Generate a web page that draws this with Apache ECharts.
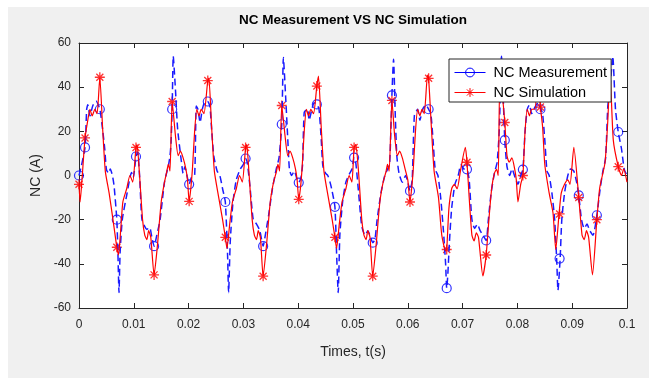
<!DOCTYPE html>
<html><head><meta charset="utf-8">
<script src="https://cdn.jsdelivr.net/npm/echarts@6/dist/echarts.min.js"></script>
<style>html,body{margin:0;padding:0;background:#fff}#c{width:649px;height:378px}</style>
</head><body><div id="c"></div>
<script>
// ---- axis ticks ----
const xTicks = [0, 0.01, 0.02, 0.03, 0.04, 0.05, 0.06, 0.07, 0.08, 0.09, 0.1];
const yTicks = [-60, -40, -20, 0, 20, 40, 60];

// ---- NC Simulation (red) ----
const simT = [
  0,0.0002,0.0006,0.0011,0.0016,0.0020,0.0024,0.0029,0.0033,0.0038,0.0043,0.0048,0.0055,0.0062,0.0069,0.0072,0.0076,0.0080,0.0087,0.0093,0.0098,0.0104,0.0106,0.0110,0.0116,0.0120,0.0124,0.0127,0.0131,0.0137,0.0143,0.0150,0.0156,0.0160,0.0163,0.0166,0.0170,0.0176,0.0181,0.0185,0.0190,0.0195,
  0.0198,0.0201,0.0204,0.0207,0.0211,0.0215,0.0219,0.0223,0.0228,0.0235,0.0237,0.0242,0.0247,0.0255,0.0262,0.0267,0.0270,0.0275,0.0280,0.0287,0.0293,0.0298,0.0304,0.0306,0.0310,0.0316,0.0320,0.0324,0.0327,0.0331,0.0336,0.0342,0.0349,0.0355,0.0360,0.0363,0.0366,0.0370,0.0376,0.0381,0.0385,0.0390,0.0395,
  0.0398,0.0401,0.0404,0.0407,0.0411,0.0415,0.0419,0.0423,0.0428,0.0434,0.0437,0.0442,0.0447,0.0455,0.0462,0.0467,0.0470,0.0475,0.0480,0.0487,0.0493,0.0498,0.0502,0.0505,0.0510,0.0516,0.0520,0.0524,0.0527,0.0531,0.0536,0.0542,0.0549,0.0555,0.0560,0.0563,0.0566,0.0571,0.0576,0.0581,0.0585,0.0590,0.0595,
  0.0600,0.0604,0.0607,0.0610,0.0614,0.0618,0.0622,0.0626,0.0630,0.0636,0.0638,0.0643,0.0648,0.0656,0.0662,0.0669,0.0671,0.0675,0.0680,0.0685,0.0690,0.0696,0.0705,0.0708,0.0712,0.0717,0.0721,0.0725,0.0729,0.0737,0.0743,0.0748,0.0753,0.0758,0.0762,0.0765,0.0768,0.0773,0.0777,0.0781,0.0785,0.0790,0.0795,
  0.0798,0.0801,0.0806,0.0810,0.0814,0.0818,0.0822,0.0826,0.0832,0.0837,0.0842,0.0846,0.0850,0.0858,0.0865,0.0870,0.0876,0.0880,0.0886,0.0892,0.0896,0.0903,0.0912,0.0918,0.0922,0.0926,0.0930,0.0937,0.0945,0.0950,0.0955,0.0960,0.0965,0.0969,0.0975,0.0984,0.0990,0.0994,0.1000
];
const simV = [
  -4,-12,0,17,25,30,27,30,28,44.5,22,2,-8,-20,-32.5,-36,-25,-12,-6,0,-3,12.7,14,2,-20,-27,-29,-25,-28,-45,-32,-12,-3,1.5,5,2,33.5,18,9,11,8,3,
  -2,-11.7,-6,3,20,30,27,30,28,43,44,22,2,-10,-20,-28,-33,-22,-12,-6,0,-3,12.7,14,2,-20,-27,-29,-25,-28,-45.6,-32,-12,-3,1.5,5,2,31.7,18,9,11,8,3,
  -2,-10.8,-6,3,20,30,27,30,28,40.5,45,22,2,-10,-20,-28,-33,-22,-12,-6,0,-3,12.7,14,2,-20,-27,-29,-25,-28,-45.6,-32,-12,-3,1.5,5,2,34,18,9,11,8,3,
  -2,-12,-6,3,20,30,27,30,28,45.5,44,22,2,-10,-27,-34,-33.5,-15,-6,-4,-6,2,12.7,6,-10,-27,-29.6,-26,-28,-45.5,-36,-20,-6,1,2.8,0,43,35,24,9,6,8,3,
  -2,-12,-4,0,20,30,27,30,30,45,31,22,5,-8,-17,-33.5,-17.4,-8,-4,-2,-4,12.7,-10,-27,-29,-25,-28,-45,-20,-6,0,6,25,46.6,16,4,0,3,-3
];

// ---- NC Measurement (blue) ----
const measT = [
  0,0.0004,0.0011,0.0014,0.0016,0.0020,0.0025,0.0031,0.0038,0.0043,0.0047,0.0050,0.0054,0.0057,0.0061,0.0064,0.0069,0.0071,0.0073,0.0075,0.0079,0.0087,0.0096,0.0099,0.0104,0.0107,0.0111,0.0115,0.0124,0.0129,0.0133,0.0137,0.0142,0.0148,0.0156,0.0163,0.0166,0.0168,0.0170,0.0172,0.0176,0.0180,0.0187,0.0190,0.0193,0.0197,0.0201,
  0.0205,0.0211,0.0214,0.0217,0.0221,0.0225,0.0230,0.0235,0.0239,0.0242,0.0246,0.0252,0.0257,0.0262,0.0267,0.0271,0.0273,0.0276,0.0281,0.0287,0.0294,0.0300,0.0304,0.0307,0.0312,0.0318,0.0324,0.0330,0.0336,0.0340,0.0346,0.0353,0.0360,0.0365,0.0370,0.0373,0.0377,0.0381,0.0384,0.0388,0.0393,0.0397,0.0401,
  0.0405,0.0408,0.0411,0.0417,0.0420,0.0424,0.0429,0.0434,0.0438,0.0442,0.0445,0.0450,0.0454,0.0458,0.0461,0.0467,0.0470,0.0473,0.0476,0.0481,0.0487,0.0494,0.0498,0.0502,0.0505,0.0511,0.0516,0.0522,0.0527,0.0532,0.0536,0.0540,0.0544,0.0551,0.0558,0.0563,0.0567,0.0571,0.0574,0.0577,0.0580,0.0584,0.0590,0.0596,0.0600,0.0604,
  0.0608,0.0612,0.0618,0.0622,0.0627,0.0633,0.0638,0.0642,0.0646,0.0650,0.0655,0.0660,0.0665,0.0669,0.0671,0.0673,0.0676,0.0680,0.0686,0.0692,0.0697,0.0702,0.0708,0.0712,0.0717,0.0722,0.0727,0.0732,0.0737,0.0743,0.0747,0.0752,0.0758,0.0763,0.0767,0.0771,0.0774,0.0777,0.0781,0.0786,0.0790,0.0796,0.0801,
  0.0806,0.0810,0.0814,0.0818,0.0822,0.0826,0.0832,0.0838,0.0843,0.0846,0.0850,0.0854,0.0858,0.0863,0.0868,0.0872,0.0874,0.0878,0.0881,0.0886,0.0892,0.0897,0.0903,0.0908,0.0912,0.0917,0.0922,0.0927,0.0932,0.0938,0.0945,0.0951,0.0956,0.0961,0.0965,0.0969,0.0974,0.0979,0.0984,0.0990,0.0995,0.1000
];
const measV = [
  0,4,12.7,30,32,27,31.5,33.7,30,21,12,2.8,1,3,0,-4.7,-20,-35,-53,-35,-20,-9,1.4,-1,8.6,10.5,-2,-20,-24.4,-23.5,-28,-32,-27,-20,-3,4.3,8.8,15,30,54,39,21,6,1,4,0,-4,
  -1,0,31.5,30,24,30,33.5,33.5,31,21,8.8,2,0,-6,-12,-35,-53,-30,-12,-2,2.8,5,7.7,6,-5,-20,-22,-25,-32,-27,-18,-6,3,8,23.2,53.4,36,16.4,2.8,0,2,-1,-3.2,
  -1,5,28.6,30,25,29,33,32.2,30,16.4,4.3,1,0,-3,-6,-14.2,-35,-53,-27,-12,-3,1,2.8,8.1,6,-10,-23,-27,-25,-28,-30.4,-29,-20,-8,0,2.8,6,36.3,52.6,28.5,8.8,1,-3,0,-3,-7,
  -2,27,30,25,30,32,30,28,16.4,2.8,0,-10,-25,-40,-51,-45,-30,-15,-4,0,5,3,2.8,-2,-20,-24,-22,-25,-27,-29.4,-20,-8,1,6,21,54,36,16,4,0,3,-1,-4,
  0,2.7,20,30,32,28,31,33,30,28,16,2,0,-8,-20,-40,-52,-37.6,-20,-8,0,3,2,-3,-9,-20,-24,-22,-25,-27,-18,-6,2,8,31.5,39,54,30,19.7,12,2.8,0
];

// ---- marker samples (shared sample times) ----
const markT = [0,0.0011,0.0038,0.0069,0.0104,0.0137,0.0170,0.0201,0.0235,0.0267,0.0304,0.0336,0.0370,0.0401,0.0434,0.0467,0.0502,0.0536,0.0571,0.0604,0.0638,0.0671,0.0708,0.0743,0.0777,0.0810,0.0842,0.0877,0.0912,0.0945,0.0984];
const measMarkV = [0,12.7,30,-20,8.6,-32,30,-4,33.5,-12,7.7,-32,23.2,-3.2,32.2,-14.2,8.1,-30.4,36.3,-7,30,-51,2.8,-29.4,16,2.7,30,-37.6,-9,-18,19.7];
const simMarkV = [-4,17,44.5,-32.5,12.7,-45,33.5,-11.7,43,-28,12.7,-45.6,31.7,-10.8,40.5,-28,12.7,-45.6,34,-12,44,-33.5,6,-36,24,0,31,-17.4,-10,-20,4];

const zip = (a, b) => a.map((t, i) => [t, b[i]]);
const FONT = '"Liberation Sans", Arial, Helvetica, sans-serif';
const AX = '#262626';
const ASTERISK = 'path://M5,0L5,10M0,5L10,5M1.5,1.5L8.5,8.5M1.5,8.5L8.5,1.5';

const chart = echarts.init(document.getElementById('c'), null, {renderer: 'canvas'});
const axisCommon = {
  axisLine: {show: true, onZero: false, lineStyle: {color: AX, width: 1}},
  axisTick: {show: true, inside: true, length: 5, lineStyle: {color: AX, width: 1}},
  splitLine: {show: false}
};
chart.setOption({
  animation: false,
  backgroundColor: '#f0f0f0',
  graphic: [
    {type: 'rect', left: 0, top: 0, shape: {width: 649, height: 7}, style: {fill: '#fff'}, silent: true},
    {type: 'rect', left: 0, top: 0, shape: {width: 8, height: 378}, style: {fill: '#fff'}, silent: true}
  ],
  title: {
    text: 'NC Measurement VS NC Simulation', left: 353, top: 13, textAlign: 'center', padding: 0,
    textStyle: {fontFamily: FONT, fontSize: 13.5, fontWeight: 'bold', color: '#000'}
  },
  grid: {left: 79, top: 43, width: 548, height: 265, show: true, backgroundColor: '#fff', borderWidth: 0, containLabel: false},
  legend: {
    orient: 'vertical', left: 449, top: 59, padding: [6, 4, 2, 5], itemGap: 5,
    itemWidth: 31, itemHeight: 11, backgroundColor: '#fff', borderColor: AX, borderWidth: 1,
    selectedMode: false,
    textStyle: {fontFamily: FONT, fontSize: 14.5, color: '#000', padding: [0, 0, 0, 3]},
    data: [
      {name: 'NC Measurement', itemStyle: {color: 'transparent', borderColor: '#0000ff', borderWidth: 1}, lineStyle: {color: '#0000ff', width: 1, type: 'solid'}},
      {name: 'NC Simulation', itemStyle: {color: 'transparent', borderColor: '#ff0000', borderWidth: 1}, lineStyle: {color: '#ff0000', width: 1, type: 'solid'}}
    ]
  },
  xAxis: [
    Object.assign({
      type: 'value', position: 'bottom', min: xTicks[0], max: xTicks[xTicks.length - 1], interval: 0.01,
      axisLabel: {margin: 11, color: AX, fontFamily: FONT, fontSize: 12, formatter: v => String(+v.toFixed(2))},
      name: 'Times, t(s)', nameLocation: 'middle', nameGap: 37,
      nameTextStyle: {fontFamily: FONT, fontSize: 14, color: AX}
    }, axisCommon),
    Object.assign({
      type: 'value', position: 'top', min: xTicks[0], max: xTicks[xTicks.length - 1], interval: 0.01,
      axisLabel: {show: false}
    }, axisCommon)
  ],
  yAxis: [
    Object.assign({
      type: 'value', position: 'left', min: yTicks[0], max: yTicks[yTicks.length - 1], interval: 20,
      axisLabel: {margin: 8, color: AX, fontFamily: FONT, fontSize: 12},
      name: 'NC (A)', nameLocation: 'middle', nameGap: 36, nameRotate: 90,
      nameTextStyle: {fontFamily: FONT, fontSize: 14, color: AX}
    }, axisCommon),
    Object.assign({
      type: 'value', position: 'right', min: yTicks[0], max: yTicks[yTicks.length - 1], interval: 20,
      axisLabel: {show: false}
    }, axisCommon)
  ],
  series: [
    {name: 'NC Measurement', type: 'line', data: zip(measT, measV), symbol: 'circle', showSymbol: false, smooth: 0.2,
     lineStyle: {color: '#1a1aff', width: 1.5, type: [7, 4]}, itemStyle: {color: '#0000ff'}, silent: true},
    {name: 'NC Measurement markers', type: 'scatter', data: zip(markT, measMarkV), symbol: 'circle', symbolSize: 9,
     itemStyle: {color: 'transparent', borderColor: '#0000ff', borderWidth: 1.2}, silent: true},
    {name: 'NC Simulation', type: 'line', data: zip(simT, simV), symbol: ASTERISK, showSymbol: false, smooth: 0.2,
     lineStyle: {color: '#ff0000', width: 1.2}, itemStyle: {color: '#ff0000'}, silent: true},
    {name: 'NC Simulation markers', type: 'scatter', data: zip(markT, simMarkV), symbol: ASTERISK, symbolSize: 10,
     itemStyle: {color: 'transparent', borderColor: '#ff0000', borderWidth: 1.3}, silent: true}
  ]
});
</script>
</body></html>
